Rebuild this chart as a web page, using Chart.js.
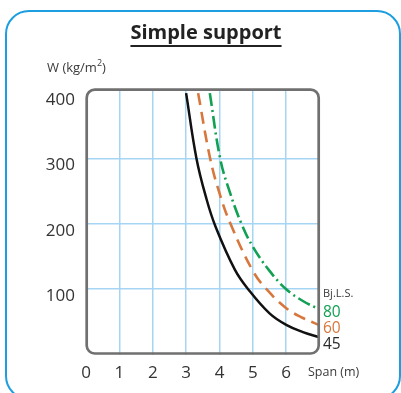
<!DOCTYPE html>
<html>
<head>
<meta charset="utf-8">
<script src="https://cdn.jsdelivr.net/npm/chart.js@4/dist/chart.umd.min.js"></script>
<style>
  html, body { margin:0; padding:0; background:#fff; }
  body { width:401px; height:393px; overflow:hidden; position:relative; font-family:"Open Sans", sans-serif; }
  #frame { position:absolute; left:5px; top:10px; width:396px; height:390px; box-sizing:border-box;
           border:2.6px solid #1c9ee0; border-radius:24px; }
  canvas { position:absolute; left:0; top:0; }
  .t { position:absolute; line-height:1; white-space:nowrap; }
  #title { left:0; width:412px; text-align:center; top:22px; font-size:20px; font-weight:700; color:#222;
           text-decoration:underline; text-decoration-thickness:2px; text-underline-offset:6px; text-decoration-skip-ink:none; }
  #wlab { left:47px; top:59px; font-size:13px; color:#3a3a3a; }
  #wlab sup { font-size:9px; position:relative; top:-1px; }
  #span { left:308px; top:366px; font-size:12.5px; color:#3a3a3a; }
  #bjls { left:323px; top:287px; font-size:11px; color:#3a3a3a; }
  #l80 { left:323px; top:303.5px; font-size:15.5px; color:#12a052; }
  #l60 { left:323px; top:319.5px; font-size:15.5px; color:#d8773c; }
  #l45 { left:323px; top:335.5px; font-size:15.5px; color:#2a2a2a; }
</style>
</head>
<body>
<div id="frame"></div>
<canvas id="c" width="401" height="393"></canvas>
<div class="t" id="title">Simple support</div>
<div class="t" id="wlab">W (kg/m<sup>2</sup>)</div>
<div class="t" id="span">Span (m)</div>
<div class="t" id="bjls">Bj.L.S.</div>
<div class="t" id="l80">80</div>
<div class="t" id="l60">60</div>
<div class="t" id="l45">45</div>
<script>
// Data (span in m, W in kg/m2)
const span45 = [3.0, 3.31, 3.6, 3.88, 4.46, 4.86, 5.5, 6.0, 6.5, 7.0];
const load45 = [400, 300, 240, 196, 130, 100, 63, 45.5, 34.5, 26.5];
const span60 = [3.36, 3.72, 4.0, 4.33, 5.0, 5.41, 6.0, 6.5, 7.0];
const load60 = [400, 300, 247, 200, 128, 100, 71, 56, 45];
const span80 = [3.71, 4.02, 4.3, 4.66, 5.0, 5.5, 6.0, 6.5, 7.0];
const load80 = [400, 300, 250, 200, 165, 128, 100, 82, 69];
const xTicks = [0, 1, 2, 3, 4, 5, 6];
const yTicks = [100, 200, 300, 400];

const pts = (xs, ys) => xs.map((x, i) => ({ x: x, y: ys[i] }));

const framePlugin = {
  id: 'frame',
  afterDatasetsDraw(chart) {
    const ca = chart.chartArea, ctx = chart.ctx;
    ctx.save();
    ctx.strokeStyle = '#707070';
    ctx.lineWidth = 2.7;
    ctx.beginPath();
    ctx.roundRect(ca.left + 0.7, ca.top - 0.8, ca.width - 1.6, ca.height - 0.3, 8);
    ctx.stroke();
    ctx.restore();
  }
};

const gridColor = '#a6d5f3';
const tickFont = { family: 'Open Sans', size: 17 };
new Chart(document.getElementById('c'), {
  type: 'line',
  data: {
    datasets: [
      { label: '45', data: pts(span45, load45), borderColor: '#111', borderWidth: 2.5, pointRadius: 0,
        tension: 0.4, fill: false },
      { label: '60', data: pts(span60, load60), borderColor: '#d8773c', borderWidth: 2.6, pointRadius: 0,
        borderDash: [12, 7], tension: 0.4, fill: false },
      { label: '80', data: pts(span80, load80), borderColor: '#12a052', borderWidth: 2.6, pointRadius: 0,
        borderDash: [13, 4, 2, 4], tension: 0.4, fill: false }
    ]
  },
  options: {
    responsive: false,
    animation: false,
    devicePixelRatio: 1,
    layout: { padding: { left: 0, top: 90.5, right: 81.4, bottom: 0 } },
    plugins: { legend: { display: false }, tooltip: { enabled: false } },
    scales: {
      x: {
        type: 'linear', min: 0, max: 7,
        afterBuildTicks: s => { s.ticks = xTicks.concat([7]).map(v => ({ value: v })); },
        afterFit: s => { s.height = 38.4; },
        border: { display: false },
        grid: { drawTicks: false, lineWidth: 1.5,
                color: c => (c.tick && (c.tick.value === 0 || c.tick.value === 7)) ? 'rgba(0,0,0,0)' : gridColor },
        ticks: { padding: 8, color: '#333', font: tickFont,
                 callback: v => xTicks.includes(v) ? String(v) : '' }
      },
      y: {
        type: 'linear', min: 0, max: 404,
        afterBuildTicks: s => { s.ticks = [0].concat(yTicks).map(v => ({ value: v })); },
        afterFit: s => { s.width = 86; },
        border: { display: false },
        grid: { drawTicks: false, lineWidth: 1.5,
                color: c => (c.tick && (c.tick.value === 0 || c.tick.value === 400)) ? 'rgba(0,0,0,0)' : gridColor },
        ticks: { padding: 11, labelOffset: 7, color: '#333', font: tickFont,
                 callback: v => yTicks.includes(v) ? String(v) : '' }
      }
    }
  },
  plugins: [framePlugin]
});
</script>
</body>
</html>
